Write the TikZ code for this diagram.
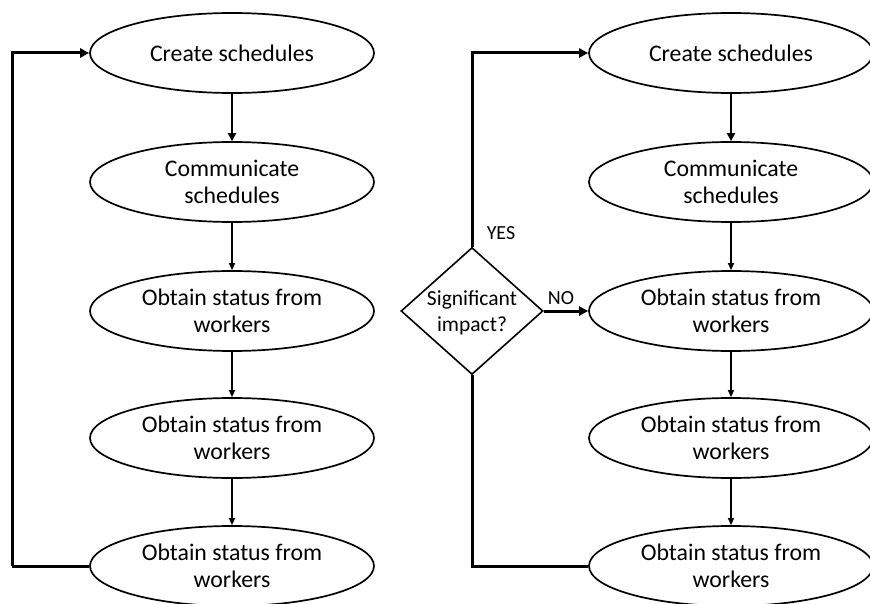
\documentclass[tikz,border=0pt]{standalone}
\usepackage{fontspec}
\setmainfont{Carlito}
\usetikzlibrary{shapes.geometric,arrows.meta}
\begin{document}
\begin{tikzpicture}[x=1pt,y=-1pt,
  oval/.style={ellipse,draw,line width=1.7pt,minimum width=284pt,minimum height=80pt,inner sep=0pt,align=center,font=\fontsize{23.8}{27}\selectfont},
  decide/.style={diamond,draw,line width=1.6pt,minimum width=142pt,minimum height=127pt,inner sep=0pt},
  thickarrow/.style={line width=3pt,-{Triangle[length=9pt,width=9pt]}},
  medarrow/.style={line width=2.4pt,-{Triangle[length=8pt,width=8pt]}},
  thinarrow/.style={line width=1.2pt,-{Triangle[length=7pt,width=6pt]}},
  thickline/.style={line width=3pt},
  lbl/.style={font=\fontsize{20}{24}\selectfont,inner sep=0pt}]
\useasboundingbox (0,0) rectangle (870,604);
% left column
\node[oval] (a1) at (232,53) {Create schedules};
\node[oval] (a2) at (232,182) {Communicate\\schedules};
\node[oval] (a3) at (232,311) {Obtain status from\\workers};
\node[oval] (a4) at (232,438) {Obtain status from\\workers};
\node[oval] (a5) at (232,566) {Obtain status from\\workers};
\draw[medarrow] (a1) -- (a2);
\draw[thinarrow] (a2) -- (a3);
\draw[thinarrow] (a3) -- (a4);
\draw[thinarrow] (a4) -- (a5);
\coordinate (lc) at (12,566);
\draw[thickline] (a5.west) -- (lc);
\draw[thickarrow] (lc) |- (a1.west);
% right column
\node[oval] (b1) at (731,53) {Create schedules};
\node[oval] (b2) at (731,182) {Communicate\\schedules};
\node[oval] (b3) at (731,311) {Obtain status from\\workers};
\node[oval] (b4) at (731,438) {Obtain status from\\workers};
\node[oval] (b5) at (731,566) {Obtain status from\\workers};
\draw[medarrow] (b1) -- (b2);
\draw[thinarrow] (b2) -- (b3);
\draw[thinarrow] (b3) -- (b4);
\draw[thinarrow] (b4) -- (b5);
\node[decide] (d) at (472,311) {};
\node[align=center,font=\fontsize{21.5}{26}\selectfont,inner sep=0pt] (dt) at (472,313) {Significant\\impact?};
\draw[thickline] (b5.west) -| (d.south);
\draw[thickarrow] (d.north) |- (b1.west);
\draw[thickarrow] (d.east) -- (b3.west);
\node[lbl] (yes) at (501,233) {YES};
\node[lbl] (no) at (561,298) {NO};
\end{tikzpicture}
\end{document}
